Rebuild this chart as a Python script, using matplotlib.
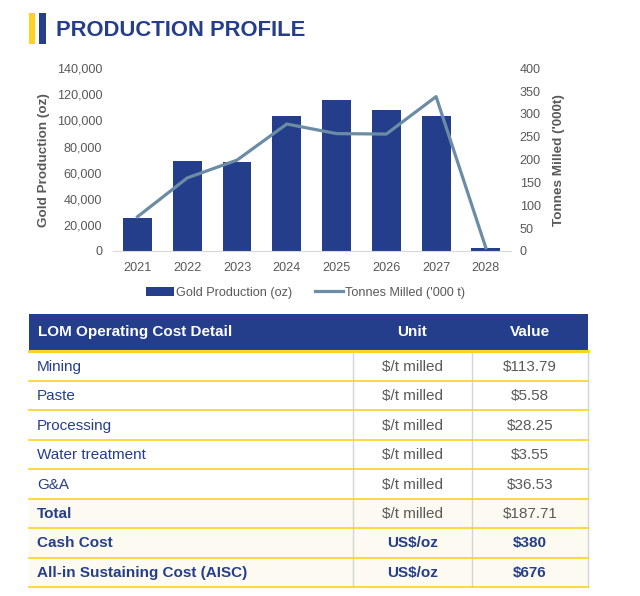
import matplotlib.pyplot as plt
from matplotlib.patches import Rectangle
from matplotlib.ticker import FuncFormatter

plt.rcParams['font.family'] = ['Liberation Sans', 'DejaVu Sans']

# chart data
years = ['2021', '2022', '2023', '2024', '2025', '2026', '2027', '2028']
gold_oz = [25000, 68700, 68200, 103500, 115400, 108200, 103100, 2000]
tonnes_kt = [75, 160, 199, 278, 257, 256, 338, 7]

# table data
cost_items = ['Mining', 'Paste', 'Processing', 'Water treatment', 'G&A',
              'Total', 'Cash Cost', 'All-in Sustaining Cost (AISC)']
cost_units = ['$/t milled'] * 6 + ['US$/oz'] * 2
cost_values = ['$113.79', '$5.58', '$28.25', '$3.55', '$36.53',
               '$187.71', '$380', '$676']
table_header = ['LOM Operating Cost Detail', 'Unit', 'Value']

navy = '#243e8c'
gold_yellow = '#ffd21f'
line_col = '#6b8ca4'
grey_txt = '#595959'

fig = plt.figure(figsize=(6.4, 5.96), dpi=100)

ax = fig.add_axes([0.176, 0.5789, 0.622, 0.3065])
x = range(len(years))
ax.bar(x, gold_oz, width=0.58, color=navy, label='Gold Production (oz)', zorder=2)
ax.set_xlim(-0.5, len(years) - 0.5)
ax.set_ylim(0, 140000)
ax.set_yticks(range(0, 140001, 20000))
ax.yaxis.set_major_formatter(FuncFormatter(lambda v, p: f'{int(v):,}'))
ax.set_xticks(list(x))
ax.set_xticklabels(years)
ax.set_ylabel('Gold Production (oz)', fontsize=9.7, fontweight='bold', color=grey_txt, labelpad=5)

ax2 = ax.twinx()
ax2.plot(list(x), tonnes_kt, color=line_col, linewidth=2.3, label="Tonnes Milled ('000 t)", zorder=3)
ax2.set_ylim(0, 400)
ax2.set_yticks(range(0, 401, 50))
ax2.set_ylabel("Tonnes Milled ('000t)", fontsize=9.7, fontweight='bold', color=grey_txt, labelpad=9)

for a in (ax, ax2):
    for s in a.spines.values():
        s.set_visible(False)
    a.tick_params(length=0, labelsize=9.1, labelcolor=grey_txt, pad=6)
ax.spines['bottom'].set_visible(True)
ax.spines['bottom'].set_color('#d9d9d9')
ax.tick_params(axis='x', pad=8)
ax.tick_params(axis='y', pad=7.5)
ax2.tick_params(axis='y', pad=6.5)

h1, l1 = ax.get_legend_handles_labels()
h2, l2 = ax2.get_legend_handles_labels()
fig.legend(h1 + h2, l1 + l2, loc='center', bbox_to_anchor=(0.4775, 1 - 292.7 / 596),
           ncol=2, frameon=False, fontsize=9.1, handlelength=2.25, handletextpad=0.15,
           columnspacing=1.75, labelcolor=grey_txt)

# overlay in pixel coordinates for title and table
ov = fig.add_axes([0, 0, 1, 1])
ov.set_xlim(0, 640)
ov.set_ylim(596, 0)
ov.axis('off')

ov.add_patch(Rectangle((29, 13.3), 6, 30.7, color=gold_yellow, lw=0))
ov.add_patch(Rectangle((39.3, 13.3), 6.4, 30.7, color=navy, lw=0))
ov.text(55.5, 30, 'PRODUCTION PROFILE', fontsize=15.8, fontweight='bold', color=navy,
        va='center', ha='left')

t_left, t_right = 29, 588
col1, col2 = 353.3, 471.7
head_top, head_bot = 314.3, 350.5
row_h = 29.45
unit_x = (col1 + col2) / 2
val_x = (col2 + t_right) / 2

ov.add_patch(Rectangle((t_left, head_top), t_right - t_left, head_bot - head_top, color=navy, lw=0))
hy = (head_top + head_bot) / 2
ov.text(t_left + 9, hy, table_header[0], color='white', fontsize=11, fontweight='bold', va='center')
ov.text(unit_x, hy, table_header[1], color='white', fontsize=11, fontweight='bold', va='center', ha='center')
ov.text(val_x, hy, table_header[2], color='white', fontsize=11, fontweight='bold', va='center', ha='center')

n = len(cost_items)
top0 = head_bot + 1
for i in range(n):
    y0 = top0 + i * row_h
    bg = '#fdfaf2' if i >= 5 else 'white'
    ov.add_patch(Rectangle((t_left, y0), t_right - t_left, row_h, color=bg, lw=0))
    yc = y0 + row_h / 2 + 0.5
    lbl_bold = i >= 5
    rest_bold = i >= 6
    ov.text(t_left + 8, yc, cost_items[i], fontsize=11, color=navy,
            fontweight='bold' if lbl_bold else 'normal', va='center')
    rc = navy if rest_bold else grey_txt
    rw = 'bold' if rest_bold else 'normal'
    ov.text(unit_x, yc, cost_units[i], fontsize=11, color=rc, fontweight=rw, va='center', ha='center')
    ov.text(val_x, yc, cost_values[i], fontsize=11, color=rc, fontweight=rw, va='center', ha='center')

bottom = top0 + n * row_h
for xc in (col1, col2, t_right):
    ov.plot([xc, xc], [head_bot, bottom], color='#d4d4d4', lw=1.0)
for i in range(1, n + 1):
    yl = top0 + i * row_h
    ov.plot([t_left, t_right], [yl, yl], color=gold_yellow, lw=1.2)
ov.plot([t_left, t_right], [head_bot + 0.5, head_bot + 0.5], color=gold_yellow, lw=2.2)

fig.savefig('out.png', dpi=100)
